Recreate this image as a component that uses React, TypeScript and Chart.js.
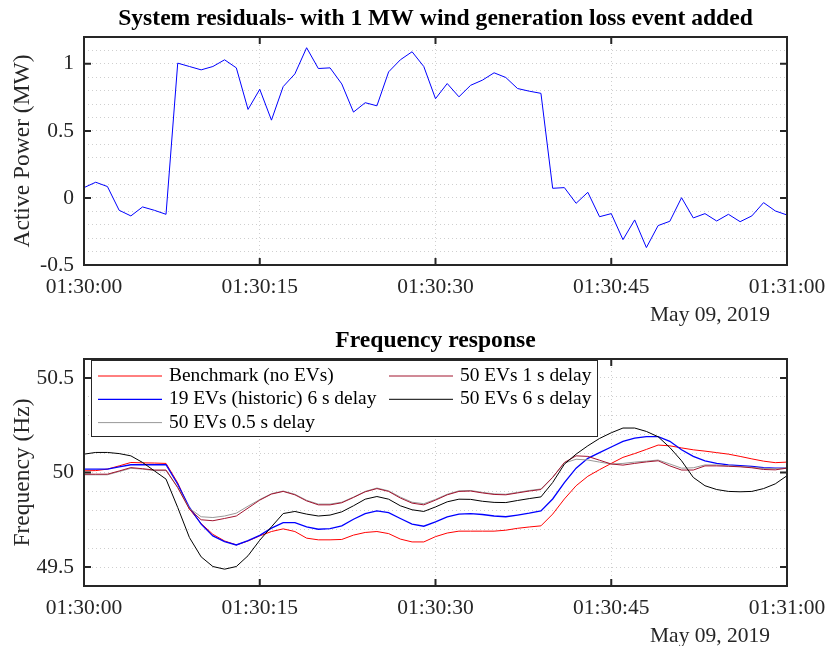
import React, { useEffect, useRef } from "react";
import { Chart, registerables } from "chart.js";

Chart.register(...registerables);

const FONT = "'Liberation Serif', 'Times New Roman', serif";

// time axis: seconds after 01:30:00
const timeSeconds = [
  0, 1, 2, 3, 4, 5, 6, 7, 8, 9, 10, 11, 12, 13, 14, 15, 16, 17, 18, 19, 20,
  21, 22, 23, 24, 25, 26, 27, 28, 29, 30, 31, 32, 33, 34, 35, 36, 37, 38, 39, 40,
  41, 42, 43, 44, 45, 46, 47, 48, 49, 50, 51, 52, 53, 54, 55, 56, 57, 58, 59, 60,
];
const xTickSeconds = [0, 15, 30, 45, 60];
const xTickLabels = ["01:30:00", "01:30:15", "01:30:30", "01:30:45", "01:31:00"];
const dateLabel = "May 09, 2019";

const topYTicks = [-0.5, 0, 0.5, 1];
const bottomYTicks = [49.5, 50, 50.5];

// System residuals (MW)
const residualMW = [
  0.077, 0.117, 0.085, -0.092, -0.134, -0.067, -0.092, -0.122, 1.005, 0.98,
  0.955, 0.98, 1.03, 0.97, 0.66, 0.81, 0.58, 0.83, 0.925, 1.12,
  0.965, 0.97, 0.85, 0.64, 0.71, 0.687, 0.94, 1.03, 1.09, 0.98,
  0.74, 0.853, 0.754, 0.84, 0.878, 0.933, 0.898, 0.816, 0.796, 0.78,
  0.072, 0.077, -0.04, 0.042, -0.14, -0.117, -0.311, -0.164, -0.37, -0.206,
  -0.174, 0.002, -0.149, -0.117, -0.172, -0.122, -0.177, -0.134, -0.035, -0.097,
  -0.127,
];

// Frequency response (Hz)
const benchmarkHz = [
  50.009, 50.01, 50.018, 50.035, 50.053, 50.051, 50.05, 50.048, 49.945, 49.807,
  49.73, 49.673, 49.638, 49.617, 49.638, 49.665, 49.688, 49.702, 49.688, 49.653,
  49.644, 49.644, 49.646, 49.669, 49.683, 49.688, 49.677, 49.648, 49.633, 49.633,
  49.661, 49.68, 49.69, 49.69, 49.69, 49.69, 49.695, 49.705, 49.712, 49.718,
  49.78, 49.86, 49.93, 49.98, 50.015, 50.048, 50.08, 50.1, 50.122, 50.145,
  50.141, 50.13, 50.12, 50.113, 50.105, 50.097, 50.085, 50.072, 50.06, 50.052,
  50.055,
];
const ev19Hz = [
  50.018, 50.018, 50.018, 50.03, 50.041, 50.041, 50.041, 50.041, 49.938, 49.815,
  49.727, 49.665, 49.635, 49.617, 49.64, 49.668, 49.706, 49.735, 49.735, 49.713,
  49.7, 49.703, 49.718, 49.753, 49.783, 49.797, 49.788, 49.757, 49.727, 49.716,
  49.739, 49.765, 49.78, 49.783, 49.778, 49.77, 49.766, 49.775, 49.785, 49.797,
  49.86, 49.947, 50.023, 50.075, 50.105, 50.135, 50.164, 50.182, 50.19, 50.19,
  50.165, 50.12, 50.085, 50.062, 50.048, 50.04, 50.036, 50.032, 50.025, 50.023,
  50.023,
];
const ev50d05Hz = [
  49.988, 49.988, 49.988, 50.005, 50.022, 50.018, 50.01, 50.01, 49.922, 49.81,
  49.766, 49.762, 49.77, 49.785, 49.822, 49.857, 49.888, 49.902, 49.885, 49.853,
  49.833, 49.833, 49.843, 49.87, 49.9, 49.918, 49.903, 49.87, 49.843, 49.835,
  49.858, 49.885, 49.903, 49.905, 49.895, 49.887, 49.885, 49.895, 49.905, 49.913,
  49.975, 50.05, 50.07, 50.066, 50.055, 50.045, 50.048, 50.055, 50.06, 50.066,
  50.045, 50.023, 50.025, 50.04, 50.04, 50.035, 50.032, 50.028, 50.022, 50.02,
  50.025,
];
const ev50d1Hz = [
  49.991, 49.991, 49.991, 50.008, 50.026, 50.02, 50.013, 50.013, 49.92, 49.806,
  49.75, 49.745, 49.757, 49.77, 49.812, 49.854, 49.886, 49.9, 49.882, 49.85,
  49.829, 49.829, 49.84, 49.868, 49.898, 49.915, 49.9, 49.865, 49.838, 49.829,
  49.854, 49.882, 49.9, 49.902, 49.892, 49.884, 49.882, 49.892, 49.902, 49.91,
  49.974, 50.053, 50.088, 50.085, 50.065, 50.045, 50.039, 50.048, 50.056, 50.062,
  50.035, 50.013, 50.013, 50.035, 50.035, 50.033, 50.03, 50.025, 50.016, 50.014,
  50.023,
];
const ev50d6Hz = [
  50.097, 50.106, 50.106, 50.1, 50.088, 50.053, 50.009, 49.965, 49.815, 49.656,
  49.554, 49.503, 49.489, 49.503, 49.56, 49.642, 49.713, 49.783, 49.794, 49.78,
  49.77, 49.775, 49.792, 49.824, 49.859, 49.873, 49.859, 49.824, 49.803, 49.794,
  49.818, 49.845, 49.859, 49.858, 49.848, 49.842, 49.841, 49.852, 49.862, 49.871,
  49.947, 50.044, 50.097, 50.141, 50.18, 50.21, 50.235, 50.235, 50.217, 50.189,
  50.132, 50.062, 49.974, 49.93, 49.91, 49.9, 49.898, 49.9, 49.915, 49.94,
  49.983,
];

const seriesLabels = [
  "Benchmark (no EVs)",
  "19 EVs (historic) 6 s delay",
  "50 EVs 0.5 s delay",
  "50 EVs 1 s delay",
  "50 EVs 6 s delay",
];
const seriesColors = ["#ff0000", "#0000ff", "#999999", "#a2142f", "#000000"];

const AXIS_COLOR = "#262626";
const GRID_COLOR = "#cfcfcf";

function near(a: number, b: number) {
  return Math.abs(a - b) < 1e-6;
}

function xTickCallback(v: any) {
  const i = xTickSeconds.findIndex((s) => near(s, Number(v)));
  return i >= 0 ? xTickLabels[i] : "";
}

function makeYCallback(ticks: number[]) {
  return (v: any) => {
    const t = ticks.find((s) => near(s, Number(v)));
    return t === undefined ? "" : String(t);
  };
}

function boxPlugin(yTicks: number[]) {
  return {
    id: "axesBox",
    afterDatasetsDraw(chart: any) {
      const { ctx, chartArea, scales } = chart;
      const { left, right, top, bottom } = chartArea;
      const len = 7;
      ctx.save();
      ctx.strokeStyle = AXIS_COLOR;
      ctx.lineWidth = 2;
      ctx.beginPath();
      xTickSeconds.forEach((s) => {
        const px = scales.x.getPixelForValue(s);
        ctx.moveTo(px, bottom);
        ctx.lineTo(px, bottom - len);
        ctx.moveTo(px, top);
        ctx.lineTo(px, top + len);
      });
      yTicks.forEach((t) => {
        const py = scales.y.getPixelForValue(t);
        ctx.moveTo(left, py);
        ctx.lineTo(left + len, py);
        ctx.moveTo(right, py);
        ctx.lineTo(right - len, py);
      });
      ctx.stroke();
      ctx.strokeRect(left, top, right - left, bottom - top);
      ctx.restore();
    },
  };
}

function titlePlugin(text: string) {
  return {
    id: "axesTitle",
    afterDraw(chart: any) {
      const { ctx, chartArea } = chart;
      ctx.save();
      ctx.font = `bold 23.6px ${FONT}`;
      ctx.fillStyle = "#000000";
      ctx.textAlign = "center";
      ctx.textBaseline = "middle";
      ctx.fillText(text, (chartArea.left + chartArea.right) / 2, chartArea.top - 18);
      ctx.restore();
    },
  };
}

const datePlugin = {
  id: "dateLabel",
  afterDraw(chart: any) {
    const { ctx, chartArea } = chart;
    ctx.save();
    ctx.font = `21.5px ${FONT}`;
    ctx.fillStyle = AXIS_COLOR;
    ctx.textAlign = "right";
    ctx.textBaseline = "middle";
    ctx.fillText(dateLabel, chartArea.right - 17, chartArea.bottom + 50);
    ctx.restore();
  },
};

const legendPlugin = {
  id: "insideLegend",
  afterDraw(chart: any) {
    const { ctx, chartArea } = chart;
    const { left, top } = chartArea;
    const bx = left + 7.5;
    const by = top + 1.5;
    ctx.save();
    ctx.fillStyle = "#ffffff";
    ctx.fillRect(bx, by, 506, 76);
    ctx.strokeStyle = AXIS_COLOR;
    ctx.lineWidth = 1;
    ctx.strokeRect(bx, by, 506, 76);
    ctx.font = `19.4px ${FONT}`;
    ctx.textBaseline = "middle";
    ctx.textAlign = "left";
    const colX = [left + 14, left + 305];
    chart.data.datasets.forEach((ds: any, i: number) => {
      const col = i < 3 ? 0 : 1;
      const row = i < 3 ? i : i - 3;
      const y = top + 17 + row * 23.3;
      const x0 = colX[col];
      ctx.strokeStyle = ds.borderColor;
      ctx.lineWidth = ds.borderWidth;
      ctx.beginPath();
      ctx.moveTo(x0, y);
      ctx.lineTo(x0 + 64, y);
      ctx.stroke();
      ctx.fillStyle = "#000000";
      ctx.fillText(ds.label, x0 + 71, y);
    });
    ctx.restore();
  },
};

function commonScales(yMin: number, yMax: number, yTicks: number[], yTitle: string, xHeight: number) {
  return {
    x: {
      type: "linear",
      min: 0,
      max: 60,
      afterFit: (s: any) => {
        s.height = xHeight;
        s.paddingLeft = 0;
        s.paddingRight = 0;
      },
      ticks: {
        stepSize: 15,
        autoSkip: false,
        maxRotation: 0,
        padding: 9,
        color: AXIS_COLOR,
        font: { family: FONT, size: 21.5 },
        callback: xTickCallback,
      },
      grid: { color: GRID_COLOR, lineWidth: 1, drawTicks: false },
      border: { display: false, dash: [1, 3] },
    },
    y: {
      type: "linear",
      min: yMin,
      max: yMax,
      afterFit: (s: any) => {
        s.width = 84;
        s.paddingTop = 0;
        s.paddingBottom = 0;
      },
      ticks: {
        stepSize: 0.1,
        autoSkip: false,
        padding: 10,
        color: AXIS_COLOR,
        font: { family: FONT, size: 21.5 },
        callback: makeYCallback(yTicks),
      },
      grid: { color: GRID_COLOR, lineWidth: 1, drawTicks: false },
      border: { display: false, dash: [1, 3] },
      title: {
        display: true,
        text: yTitle,
        color: AXIS_COLOR,
        font: { family: FONT, size: 23.5 },
        padding: { top: 9, bottom: 0 },
      },
    },
  };
}

export default function App() {
  const topRef = useRef<HTMLCanvasElement>(null);
  const botRef = useRef<HTMLCanvasElement>(null);

  useEffect(() => {
    const top = new Chart(topRef.current as HTMLCanvasElement, {
      type: "line",
      data: {
        labels: timeSeconds,
        datasets: [
          {
            label: "System residuals",
            data: residualMW,
            borderColor: "#0000ff",
            borderWidth: 1,
            pointRadius: 0,
            tension: 0,
            fill: false,
          },
        ],
      },
      options: {
        responsive: false,
        animation: false,
        layout: { padding: { left: 0, right: 40, top: 37, bottom: 0 } },
        plugins: {
          legend: { display: false },
          tooltip: { enabled: false },
          title: { display: false },
        },
        scales: commonScales(-0.5, 1.2, topYTicks, "Active Power (MW)", 67) as any,
      },
      plugins: [
        boxPlugin(topYTicks),
        datePlugin,
        titlePlugin("System residuals- with 1 MW wind generation loss event added"),
      ],
    } as any);

    const seriesData = [benchmarkHz, ev19Hz, ev50d05Hz, ev50d1Hz, ev50d6Hz];
    const orders = [5, 4, 3, 2, 1];
    const bottom = new Chart(botRef.current as HTMLCanvasElement, {
      type: "line",
      data: {
        labels: timeSeconds,
        datasets: seriesData.map((d, i) => ({
          label: seriesLabels[i],
          data: d,
          borderColor: seriesColors[i],
          borderWidth: i === 1 ? 1.3 : 1,
          pointRadius: 0,
          tension: 0,
          fill: false,
          order: orders[i],
        })),
      },
      options: {
        responsive: false,
        animation: false,
        layout: { padding: { left: 0, right: 40, top: 37, bottom: 0 } },
        plugins: {
          legend: { display: false },
          tooltip: { enabled: false },
          title: { display: false },
        },
        scales: commonScales(49.4, 50.6, bottomYTicks, "Frequency (Hz)", 60) as any,
      },
      plugins: [boxPlugin(bottomYTicks), datePlugin, legendPlugin, titlePlugin("Frequency response")],
    } as any);

    return () => {
      top.destroy();
      bottom.destroy();
    };
  }, []);

  return (
    <div style={{ position: "absolute", left: 0, top: 0, width: 827, height: 646, background: "#ffffff" }}>
      <canvas ref={topRef} width={827} height={332} style={{ position: "absolute", left: 0, top: 0 }} />
      <canvas ref={botRef} width={827} height={324} style={{ position: "absolute", left: 0, top: 322 }} />
    </div>
  );
}
